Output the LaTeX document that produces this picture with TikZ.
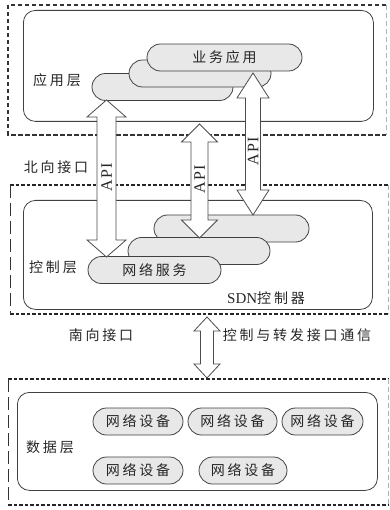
\documentclass[tikz,border=0pt]{standalone}
\usepackage{fontspec}
\setmainfont{Liberation Serif}
\newfontfamily\cjk[LetterSpace=20]{Noto Sans CJK SC}
\newfontfamily\apifont[LetterSpace=8]{Liberation Serif}
\usetikzlibrary{calc}
\newcommand{\blkarrow}[5]{%
  \draw[barr] (#1) -- ++(#4,#5) -- ++({#3-#4},0) -- ($(#2)+(#3,-#5)$) -- ++({#4-#3},0) -- (#2)
   -- ++(-#4,-#5) -- ++({#4-#3},0) -- ($(#1)+(-#3,#5)$) -- ++({#3-#4},0) -- cycle;}
\begin{document}
\begin{tikzpicture}[x=1pt,y=-1pt,
  txt/.style={font=\fontsize{14}{16}\selectfont\cjk, inner sep=0pt, text=black!85},
  layerbox/.style={draw=black!75, line width=0.8pt, rounded corners=12pt, anchor=north west, inner sep=0pt},
  pill/.style={draw=black!75, line width=0.8pt, fill=black!9, rounded corners=13.5pt, minimum height=27pt, inner sep=0pt, font=\fontsize{14}{16}\selectfont\cjk, text=black!85},
  barr/.style={draw=black!70, line width=0.8pt, fill=white, line join=miter},
  apilbl/.style={font=\fontsize{16}{18}\selectfont\apifont, inner sep=0pt, rotate=90, text=black!85},
  topdash/.style={draw=black!80, line width=1.1pt, dash pattern=on 4.5pt off 2.5pt},
  thickdash/.style={draw=black!85, line width=2pt, dash pattern=on 3.5pt off 2pt},
  longdash/.style={draw=black!80, line width=1pt, dash pattern=on 13pt off 5pt},
  rightdash/.style={draw=black!30, line width=0.8pt, dash pattern=on 5pt off 3pt}
]
\useasboundingbox (0,0) rectangle (389,510);

% ---------- application layer ----------
\draw[topdash] (386,5) -- (8,5) -- (8,135) -- (386,135);
\draw[rightdash] (386,5) -- (386,135);
\node[layerbox, minimum width=350pt, minimum height=111pt] (applayer) at (23,10) {};
\node[txt] (applbl) at (57,80) {应用层};
\node[pill, minimum width=141pt] (p3) at (162.5,87) {};
\node[pill, minimum width=142pt] (p2) at (200,73.5) {};
\node[pill, minimum width=155pt] (p1) at (224.5,57.5) {业务应用};

\node[txt] (north) at (56,167) {北向接口};

% ---------- control layer ----------
\draw[thickdash] (10,185) -- (388,185);
\draw[thickdash] (10,314) -- (388,314);
\draw[longdash] (10,185) -- (10,314);
\draw[rightdash] (388,185) -- (388,314);
\node[layerbox, minimum width=349pt, minimum height=109pt] (ctrllayer) at (23,200) {};
\node[txt] (ctrllbl) at (53,267) {控制层};
\node[pill, minimum width=155pt] (c3) at (231.5,228.5) {};
\node[pill, minimum width=142pt] (c2) at (199,251) {};
\node[pill, minimum width=133pt] (c1) at (154.5,270) {网络服务};
\node[txt] (sdn) at (266,298) {{\fontsize{15}{16}\selectfont\rmfamily SDN}控制器};

\node[txt] (south) at (101,335) {南向接口};
\node[txt] (comm) at (297,335) {控制与转发接口通信};

% ---------- data layer ----------
\draw[thickdash] (8,379) -- (388,379);
\draw[thickdash] (8,505) -- (388,505);
\draw[longdash] (8,379) -- (8,505);
\draw[rightdash] (388,379) -- (388,505);
\node[layerbox, minimum width=360pt, minimum height=98pt] (datalayer) at (17,392) {};
\node[txt] (datalbl) at (50,447) {数据层};
\node[pill, minimum width=90pt] (d1) at (138,421.5) {网络设备};
\node[pill, minimum width=89pt] (d2) at (232.5,421.5) {网络设备};
\node[pill, minimum width=81pt] (d3) at (322.5,421.5) {网络设备};
\node[pill, minimum width=90pt] (d4) at (138,470.5) {网络设备};
\node[pill, minimum width=88pt] (d5) at (243,470.5) {网络设备};

% ---------- arrows ----------
\coordinate (a1t) at (106.5,100);
\coordinate (a1b) at (106.5,257);
\coordinate (a2t) at (199.5,124);
\coordinate (a2b) at (199.5,238);
\coordinate (a3t) at (253,73);
\coordinate (a3b) at (253,215);
\coordinate (a4t) at (207,317);
\coordinate (a4b) at (207,378);
\blkarrow{a1t}{a1b}{9.5}{19.5}{17}
\blkarrow{a2t}{a2b}{8.5}{18}{18}
\blkarrow{a3t}{a3b}{7.5}{16}{25}
\blkarrow{a4t}{a4b}{6.5}{13}{14}
\node[apilbl] (api1) at (106.5,177) {API};
\node[apilbl] (api2) at (199.5,179) {API};
\node[apilbl] (api3) at (253,151) {API};
\end{tikzpicture}
\end{document}
